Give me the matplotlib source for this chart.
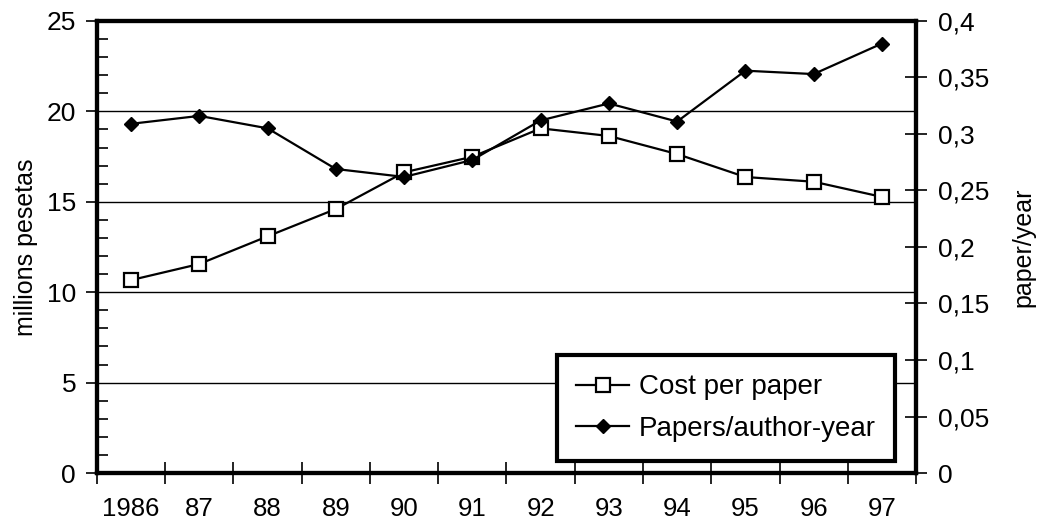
import matplotlib
matplotlib.use("Agg")
import matplotlib.pyplot as plt
from matplotlib.ticker import FixedLocator, MultipleLocator, FuncFormatter
from matplotlib.lines import Line2D

years = ["1986", "87", "88", "89", "90", "91", "92", "93", "94", "95", "96", "97"]
cost_per_paper = [10.67, 11.56, 13.09, 14.60, 16.63, 17.49, 19.06, 18.64, 17.64, 16.37, 16.11, 15.27]
papers_per_author_year = [0.309, 0.316, 0.305, 0.269, 0.262, 0.277, 0.312, 0.327, 0.311, 0.356, 0.353, 0.380]
left_ticks = [0, 5, 10, 15, 20, 25]
right_ticks = [0, 0.05, 0.1, 0.15, 0.2, 0.25, 0.3, 0.35, 0.4]

plt.rcParams['font.family'] = ['Liberation Sans', 'DejaVu Sans']

fig = plt.figure(figsize=(10.38, 5.24), dpi=100)
ax = fig.add_axes([0.0934, 0.0973, 0.7891, 0.8627])
ax2 = ax.twinx()

x = list(range(len(years)))
ax.plot(x, cost_per_paper, color='black', lw=1.6, marker='s', ms=9.5,
        mfc='white', mec='black', mew=1.6, zorder=3)
ax2.plot(x, papers_per_author_year, color='black', lw=1.6, marker='D', ms=7.5,
         mfc='black', mec='black', zorder=3)

ax.set_xlim(-0.5, len(years) - 0.5)
ax.set_ylim(0, 25)
ax2.set_ylim(0, 0.4)

ax.set_xticks(x)
ax.set_xticklabels(years)
ax.xaxis.set_minor_locator(FixedLocator([i - 0.5 for i in range(len(years) + 1)]))
ax.tick_params(axis='x', which='major', length=0, pad=17, labelsize=18.5)
ax.tick_params(axis='x', which='minor', direction='inout', length=16, width=1.2)

ax.set_yticks(left_ticks)
ax.yaxis.set_minor_locator(MultipleLocator(1))
ax.tick_params(axis='y', which='major', direction='out', length=8, width=1.2, pad=7, labelsize=19)
ax.tick_params(axis='y', which='minor', direction='in', length=8, width=1.2)
ax.grid(axis='y', which='major', color='black', lw=1)
ax.set_axisbelow(True)

ax2.set_yticks(right_ticks)
ax2.yaxis.set_major_formatter(FuncFormatter(lambda v, p: f"{v:g}".replace('.', ',')))
ax2.tick_params(axis='y', which='major', direction='inout', length=16, width=1.2, pad=8, labelsize=19)

for a in (ax, ax2):
    for s in a.spines.values():
        s.set_linewidth(3)

ax.set_ylabel("millions pesetas", fontsize=18, labelpad=6)
ax2.set_ylabel("paper/year", fontsize=18, labelpad=16)

handles = [
    Line2D([], [], color='black', lw=1.6, marker='s', ms=9.5, mfc='white', mec='black', mew=1.6),
    Line2D([], [], color='black', lw=1.6, marker='D', ms=7.5, mfc='black', mec='black'),
]
leg = ax2.legend(handles, ["Cost per paper", "Papers/author-year"],
                 loc='lower left', bbox_to_anchor=(0.5617, 0.0265),
                 fontsize=20, frameon=True, fancybox=False, framealpha=1,
                 edgecolor='black', handlelength=1.9, handletextpad=0.35,
                 borderpad=0.7, labelspacing=0.55, borderaxespad=0)
leg.get_frame().set_linewidth(3)

fig.savefig("out.png", dpi=100)
